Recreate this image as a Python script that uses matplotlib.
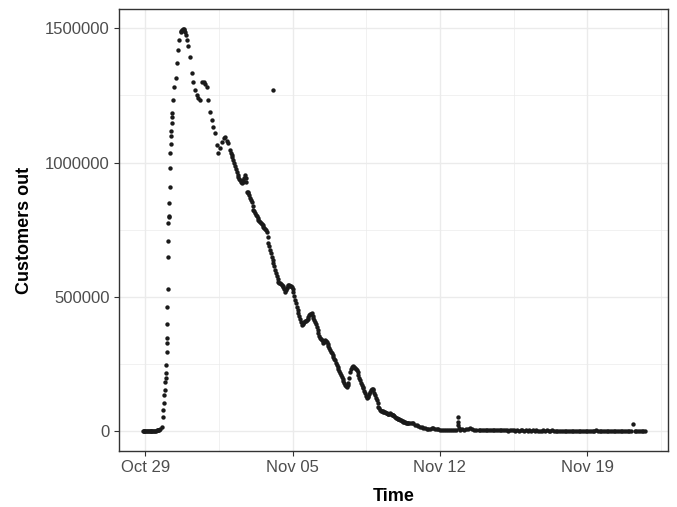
import numpy as np
import pandas as pd
import matplotlib
matplotlib.use("Agg")
import matplotlib.pyplot as plt
import matplotlib.dates as mdates

plt.rcParams['font.family'] = ['Liberation Sans', 'DejaVu Sans']

# ---------- DATA ----------
# hours since 2012-10-29 00:00, customers without power
hours = [
    -3, -2, -1, 0, 1, 2, 3, 4, 5, 6, 7, 8, 9, 10, 11, 12, 13, 14, 15, 16, 17,
    18.7, 19.8, 20.5, 21.3, 21.7, 22.5, 22.8, 23.3, 23.6, 23.9, 24.2, 24.4,
    24.6, 24.8, 25.1, 25.5, 25.9, 26.2, 26.3, 26.7, 27.0, 27.4, 27.8, 28.2,
    28.5, 29.0, 29.3, 29.7, 30.1, 30.5, 30.8, 31.9, 33.1, 34.7, 35.8, 37.6,
    38.8, 40.4, 41.0, 41.8, 42.5, 43.2, 44.0, 44.6, 45.3, 46.0,
    47.2, 48.7, 51.0, 52.9, 54.4, 56.7, 58.4, 60.5, 62.4, 64.3, 66.4, 68.1,
    70.0, 71.9, 73.8, 75.7, 77.6, 79.5, 81.4, 83.3, 85.2, 87.5, 89.2, 90.9,
    92.8, 94.7, 96.6, 98.5, 100.4, 102.3, 104.3, 106.1, 108.0, 110.0, 111.8,
    113.7, 114.9, 115.7, 117.5, 119.4, 121.4, 123.2, 125.1, 127.1, 128.9,
    130.8, 132.8, 134.6, 136.5, 138.5, 140.3, 142.2, 144.2, 145.3, 146.0, 148.0,
    149.9, 151.7, 153.6, 155.6, 157.4, 159.3, 161.3, 163.1, 165.0, 167.0,
    168.8, 170.7, 172.7, 174.5, 176.5, 178.4, 180.2, 182.2, 184.1, 185.9,
    187.9, 189.8, 191.6, 193.6, 195.5, 197.3, 199.3, 201.2, 203.0, 205.0,
    206.9, 208.7, 210.7, 212.6, 214.4, 216.4, 218.3, 220.1, 222.1, 224.0,
    225.8, 227.8, 229.7, 231.5, 233.5, 235.4, 237.2, 239.2, 241.1, 242.9,
    244.9, 246.8, 248.6, 250.6, 252.5, 254.4, 256.3, 258.2, 260.1, 262.1,
    264.0, 265.8, 267.8, 269.6, 271.5, 273.4, 275.3, 277.2, 279.1, 281.0,
    282.9, 284.8, 286.7, 288.6, 290.5, 292.4, 294.3, 296.2, 298.2, 300.0,
    302.0, 303.9, 305.7, 307.7, 309.6, 311.4, 313.4, 315.3, 317.2, 319.1,
    321.0, 322.8, 324.8, 326.7, 328.5, 330.5, 332.4, 334.2, 336.2, 338.4,
    340.7, 343.0, 345.3, 347.5, 349.8, 352.1, 354.4, 356.3, 356.6, 357.0,
    357.5, 358.9, 361.2, 363.5, 365.8, 368.1, 370.4, 372.6, 374.9, 377.2,
]
customers = [
    0, 0, 0, 0, 0, 0, 0, 0, 0, 0, 500, 0, 500, 1000, 1000, 1500, 2000, 2500,
    3500, 5000, 8000,
    16000, 53000, 78000, 104000, 134000, 153000, 184000, 197000, 216000,
    246000, 295000, 328000, 346000, 399000, 462000, 530000, 649000, 709000,
    775000, 798000, 801000, 850000, 910000, 980000, 1037000, 1070000,
    1099000, 1119000, 1146000, 1186000, 1171000, 1233000, 1283000, 1315000,
    1370000, 1419000, 1457000, 1487000, 1490000, 1494000, 1497000, 1495000,
    1492000, 1496000, 1488000, 1475000,
    1456000, 1434000, 1394000, 1332000, 1300000, 1270000, 1252000, 1239000,
    1233000, 1301000, 1300000, 1293000, 1281000, 1233000, 1188000, 1158000,
    1132000, 1110000, 1065000, 1034000, 1054000, 1077000, 1091000, 1096000,
    1080000, 1072000, 1047000, 1028000, 1009000, 987000, 965000, 947000,
    935000, 923000, 935000, 954000, 929000, 891000, 887000, 868000, 853000,
    823000, 812000, 801000, 786000, 779000, 771000, 761000, 752000, 742000,
    700000, 674000, 649000, 1270000, 626000, 600000, 577000, 556000, 550000,
    544000, 537000, 519000, 533000, 544000, 540000, 537000, 518000, 488000,
    462000, 438000, 417000, 395000, 402000, 410000, 413000, 425000, 436000,
    438000, 421000, 406000, 389000, 365000, 346000, 339000, 328000, 339000,
    333000, 317000, 302000, 291000, 276000, 264000, 246000, 231000, 215000,
    201000, 186000, 171000, 165000, 178000, 220000, 240000, 240000, 235000,
    227000, 209000, 190000, 171000, 159000, 142000, 123000, 130000, 145000,
    156000, 153000, 134000, 115000, 91000, 78000, 75000, 72000, 71000, 66000,
    65000, 66000, 61000, 60000, 52000, 47000, 45000, 41000, 39000, 35000,
    34000, 29000, 30000, 29000, 28000, 28000, 24000, 22000, 19000, 16000,
    13000, 10000, 10000, 9000, 9000, 9000, 10000, 10000, 8000, 6000, 6000,
    4000, 4000, 3000, 2000, 4000, 2000, 4000, 2000, 4000, 53000, 35000,
    22000, 12000, 4000, 6000, 4000, 6000, 9000, 11000, 7000, 4000, 2000,
]

# additional reports during the main restoration period (Nov 2 - Nov 11)
extra_hours = [
    97.5, 99.4, 101.3, 103.3, 105.2, 107.0, 109.0, 110.9, 112.7, 114.3,
    116.6, 118.4, 120.4, 122.3, 124.1, 126.1, 128.0, 129.8, 131.8, 133.7,
    135.5, 137.5, 139.4, 141.2, 143.2, 145.1, 147.0, 148.9, 150.8, 152.6,
    154.6, 156.5, 158.3, 160.3, 162.2, 164.0, 166.0, 167.9, 169.7, 171.7,
    173.6, 175.5, 177.4, 179.3, 181.2, 183.1, 185.0, 186.9, 188.8, 190.7,
    192.6, 194.5, 196.4, 198.3, 200.2, 202.1, 204.0, 205.9, 207.8, 209.7,
    211.6, 213.5, 215.4, 217.3, 219.2, 221.1, 223.0, 224.9, 226.8, 228.7,
    230.6, 232.5, 234.4, 236.3, 238.2, 240.1, 242.0, 243.9, 245.8, 247.7,
    249.6, 251.5, 253.4, 255.3, 257.2, 259.1, 261.1, 263.0, 264.9, 266.8,
    268.7, 270.6, 272.5, 274.4, 276.3, 278.2, 280.1, 282.0, 283.9, 285.8,
    287.7, 289.6, 291.5, 293.4, 295.3, 297.2, 299.1,
]
extra_customers_k = [
    1036, 1020, 998, 975, 955, 940, 929, 928, 944, 944,
    889, 878, 861, 838, 818, 806, 794, 782, 775, 766,
    757, 748, 722, 688, 662, 638, 613, 589, 566, 552,
    547, 541, 528, 525, 540, 542, 539, 528, 503, 475,
    450, 428, 406, 397, 406, 411, 419, 431, 437, 430,
    414, 398, 377, 355, 342, 334, 333, 336, 325, 310,
    296, 283, 270, 255, 238, 223, 208, 193, 178, 167,
    170, 198, 231, 241, 238, 231, 218, 199, 180, 165,
    150, 132, 126, 138, 151, 155, 143, 124, 103, 84,
    76, 73, 71, 68, 65, 65, 63, 60, 56, 49,
    46, 43, 40, 37, 34, 31, 29,
]

# long tail after Nov 13, sampled every 2 hours
tail_hours = list(range(380, 572, 2))
tail_customers = [
    3000, 2500, 3500, 2000, 2800, 2200, 3000, 2500, 1800, 2600,
    2200, 3000, 2000, 2400, 1800, 2600, 2000, 1500, 2200, 1800,
    2000, 1600, 2400, 1500, 2000, 1800, 1400, 2200, 1600, 2000,
    1500, 1800, 1300, 2000, 1500, 1700, 1200, 1900, 1400, 4000,
    1600, 1300, 1800, 1200, 1500, 1700, 1100, 1600, 1300, 1500,
    1200, 1600, 1000, 1400, 1200, 1500, 1000, 1300, 1100, 1400,
    1200, 1000, 1500, 1100, 1300, 1000, 1400, 5500, 1200, 1000,
    1300, 1100, 1400, 1000, 1200, 1500, 1000, 1300, 1100, 1200,
    1000, 1400, 1100, 1300, 1000, 1200, 1500, 1100, 25000, 1000,
    1200, 1400, 1100, 1300, 1000, 1200,
]

start = pd.Timestamp('2012-10-29')
df = pd.DataFrame({
    'hours': hours + extra_hours + tail_hours,
    'customers': customers + [v * 1000 for v in extra_customers_k] + tail_customers,
}).sort_values('hours')
df['time'] = start + pd.to_timedelta(df['hours'], unit='h')

tick_dates = pd.to_datetime(['2012-10-29', '2012-11-05', '2012-11-12', '2012-11-19'])
minor_dates = pd.to_datetime(['2012-11-01 12:00', '2012-11-08 12:00',
                              '2012-11-15 12:00', '2012-11-22 12:00'])
y_ticks = [0, 500000, 1000000, 1500000]
y_minor = [250000, 750000, 1250000]

# ---------- PLOT ----------
fig = plt.figure(figsize=(6.77, 5.07), dpi=100)
ax = fig.add_axes([0.1758, 0.1105, 0.8109, 0.8717])

ax.scatter(df['time'], df['customers'], s=10, color='#1a1a1a',
           linewidths=0, zorder=3)

ax.set_xlim(start - pd.Timedelta(hours=30), start + pd.Timedelta(hours=596))
ax.set_ylim(-74500, 1572000)

ax.set_xticks(tick_dates)
ax.set_xticks(minor_dates, minor=True)
ax.xaxis.set_major_formatter(mdates.DateFormatter('%b %d'))
ax.set_yticks(y_ticks)
ax.set_yticks(y_minor, minor=True)
ax.set_yticklabels([str(v) for v in y_ticks])

ax.grid(True, which='major', color='#EBEBEB', linewidth=1.0, zorder=0)
ax.grid(True, which='minor', color='#EBEBEB', linewidth=0.5, zorder=0)
ax.set_axisbelow(True)

ax.tick_params(which='major', length=3.5, width=0.8, color='#333333',
               labelsize=12, labelcolor='#4D4D4D', pad=3)
ax.tick_params(which='minor', length=0)
for s in ax.spines.values():
    s.set_color('#333333')
    s.set_linewidth(1.0)

ax.set_xlabel('Time', fontsize=13, fontweight='bold', labelpad=9)
ax.set_ylabel('Customers out', fontsize=13, fontweight='bold', labelpad=9)

plt.savefig('out.png', dpi=100)
